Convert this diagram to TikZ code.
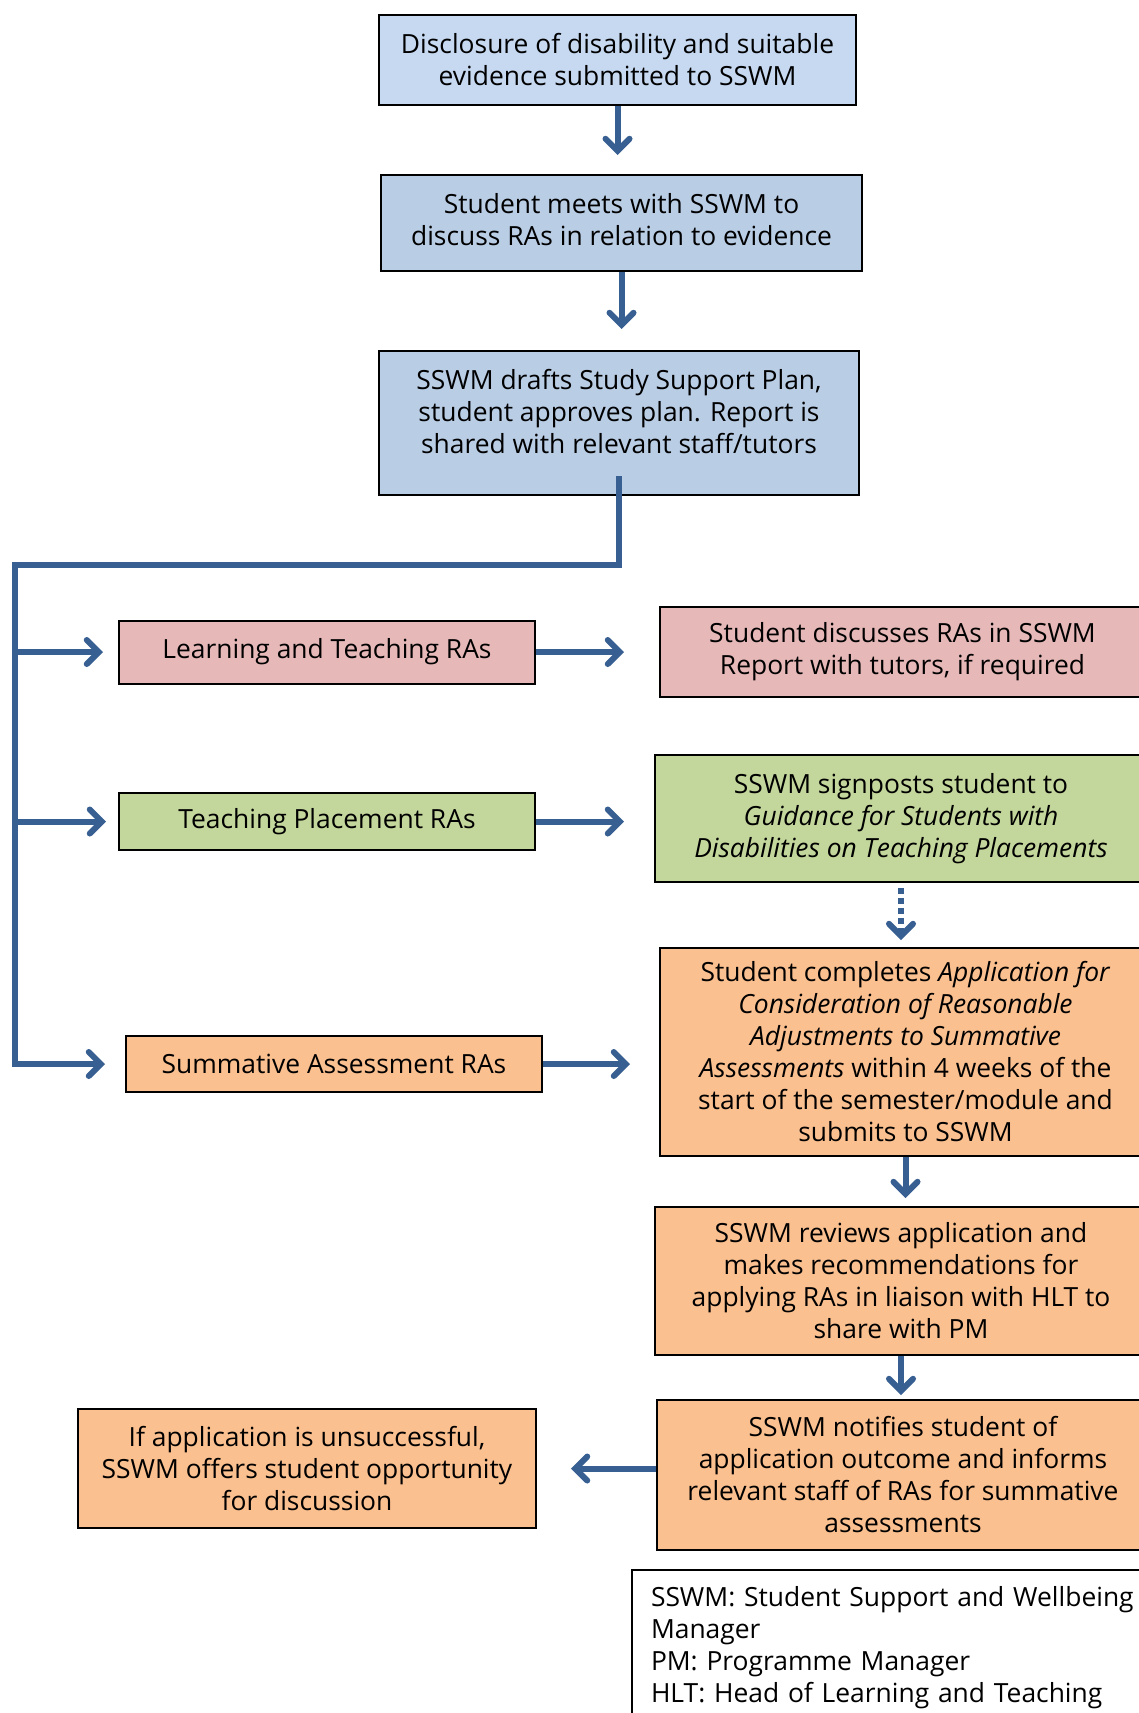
\documentclass[tikz,border=0pt]{standalone}
\usepackage{fontspec}
\setmainfont{Open Sans}
\usepackage{tikz}
\usetikzlibrary{arrows.meta,calc}

\definecolor{paleblue}{HTML}{C6D9F1}
\definecolor{midblue}{HTML}{B9CDE5}
\definecolor{rosepink}{HTML}{E6B9B8}
\definecolor{leafgreen}{HTML}{C3D69B}
\definecolor{peach}{HTML}{FAC090}
\definecolor{linkblue}{HTML}{375F92}

\begin{document}
\begin{tikzpicture}[x=0.5pt,y=-0.5pt,
        box/.style={draw=black, line width=1pt, inner sep=0pt, align=center,
            font=\fontsize{13.2}{16}\selectfont},
        link/.style={draw=linkblue, line width=3pt,
            -{Straight Barb[length=6pt,width=12pt,line cap=round]}}]
        \useasboundingbox (0,0) rectangle (1139,1713);
        \clip (0,0) rectangle (1139,1713);

        % main column
        \node[box, fill=paleblue, minimum width=238.5pt, minimum height=45pt] (disc) at (617.5,60)
            {Disclosure of disability and suitable\\evidence submitted to SSWM};
        \node[box, fill=midblue, minimum width=240.5pt, minimum height=48pt] (meet) at (621.5,223)
            {Student meets with SSWM to\\discuss RAs in relation to evidence\\[-12pt]~};
        \node[box, fill=midblue, minimum width=240pt, minimum height=72pt] (draft) at (619,423)
            {SSWM drafts Study Support Plan,\\student approves plan. Report is\\shared with relevant staff/tutors\\[-4pt]~};

        % the three kinds of RA
        \node[box, fill=rosepink, minimum width=208pt, minimum height=31.5pt] (lt) at (327,652)
            {Learning and Teaching RAs};
        \node[box, fill=leafgreen, minimum width=208pt, minimum height=28.5pt] (tp) at (327,821.5)
            {Teaching Placement RAs};
        \node[box, fill=peach, minimum width=208pt, minimum height=28pt] (sa) at (334,1064)
            {Summative Assessment RAs};

        % right column
        \node[box, fill=rosepink, minimum width=242.5pt, minimum height=45pt] (ltr) at (902.5,652)
            {Student discusses RAs in SSWM\\Report with tutors, if required};
        \node[box, fill=leafgreen, minimum width=246pt, minimum height=63.5pt] (tpr) at (901,818.5)
            {SSWM signposts student to\\\textit{Guidance for Students with}\\\textit{Disabilities on Teaching Placements}};
        \node[box, fill=peach, minimum width=245.5pt, minimum height=104pt] (sar) at (905.5,1052)
            {Student completes \textit{Application for}\\\textit{Consideration of Reasonable}\\\textit{Adjustments to Summative}\\\textit{Assessments} within 4 weeks of the\\start of the semester/module and\\submits to SSWM};
        \node[box, fill=peach, minimum width=246pt, minimum height=74pt] (rev) at (901,1281)
            {SSWM reviews application and\\makes recommendations for\\applying RAs in liaison with HLT to\\share with PM};
        \node[box, fill=peach, minimum width=246pt, minimum height=75pt] (ntf) at (903,1475)
            {SSWM notifies student of\\application outcome and informs\\relevant staff of RAs for summative\\assessments};
        \node[box, fill=peach, minimum width=229pt, minimum height=59.5pt] (uns) at (307,1468.5)
            {If application is unsuccessful,\\SSWM offers student opportunity\\for discussion};

        % key
        \node[box, fill=white, anchor=north west, align=left, inner xsep=9.5pt, inner ysep=8pt,
            text width=281pt] (key) at (631,1569)
            {SSWM: Student Support and Wellbeing\\Manager\\PM: Programme Manager\\HLT: Head of Learning and Teaching\\~};

        \coordinate (corner) at (15,565);

        \draw[link, shorten >=9.5pt] (disc.south) -- (disc.south |- meet.north);
        \draw[link, shorten >=10.5pt] (meet.south) -- (meet.south |- draft.north);
        \draw[link, shorten >=10pt] ([yshift=10pt]draft.south) |- (corner) |- (sa.west);
        \draw[link, shorten >=7.5pt] (corner |- lt.west) -- (lt.west);
        \draw[link, shorten >=6pt] (corner |- tp.west) -- (tp.west);

        \draw[link, shorten >=17.5pt] (lt.east) -- (lt.east -| ltr.west);
        \draw[link, shorten >=15pt] (tp.east) -- (tp.east -| tpr.west);
        \draw[link, shorten >=14.5pt] (sa.east) -- (sa.east -| sar.west);

        \draw[link, dash pattern=on 3pt off 2pt, shorten <=2.5pt, shorten >=3.5pt]
            (tpr.south) -- (tpr.south |- sar.north);
        \draw[link, shorten >=4pt] (sar.south) -- (sar.south |- rev.north);
        \draw[link, shorten >=2pt] (rev.south) -- (rev.south |- ntf.north);
        \draw[link, shorten >=17pt] (uns.east -| ntf.west) -- (uns.east);
\end{tikzpicture}
\end{document}
